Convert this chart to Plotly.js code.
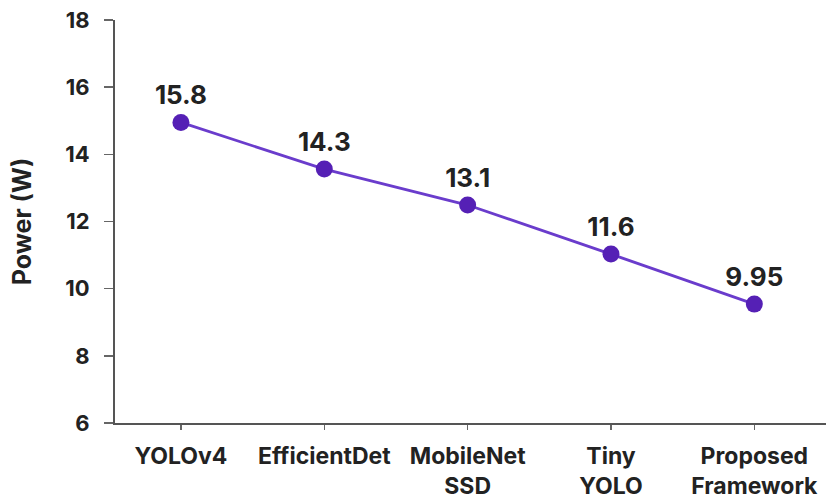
<!DOCTYPE html>
<html>
<head>
<meta charset="utf-8">
<script src="https://cdn.plot.ly/plotly-3.0.1.min.js"></script>
<style>html,body{margin:0;padding:0;background:#fff;}#chart{width:826px;height:499px;}</style>
</head>
<body>
<div id="chart"></div>
<script>
const models = ["YOLOv4", "EfficientDet", "MobileNet<br>SSD", "Tiny<br>YOLO", "Proposed<br>Framework"];
const powerPlotted = [14.95, 13.56, 12.49, 11.03, 9.54];
const powerLabels = ["15.8", "14.3", "13.1", "11.6", "9.95"];
const yTicks = [6, 8, 10, 12, 14, 16, 18];

const font = "Inter, Roboto, 'Noto Sans', sans-serif";

const trace = {
  x: models.map((_, i) => i),
  y: powerPlotted,
  text: powerLabels,
  mode: "lines+markers+text",
  textposition: "top center",
  textfont: {family: font, size: 26, color: "#222", weight: 700},
  line: {color: "#6a3ccc", width: 2.8},
  marker: {color: "#5520b5", size: 17},
  cliponaxis: false,
  hoverinfo: "none"
};

const layout = {
  width: 826, height: 499,
  margin: {l: 115, r: 0, t: 20, b: 76},
  paper_bgcolor: "#fff", plot_bgcolor: "#fff",
  showlegend: false,
  font: {family: font, color: "#222"},
  xaxis: {
    range: [-0.46, 4.5],
    tickmode: "array",
    tickvals: models.map((_, i) => i),
    ticktext: models,
    ticks: "outside", ticklen: 5, tickwidth: 1.5, tickcolor: "#666",
    ticklabelstandoff: 6,
    showline: true, linecolor: "#555", linewidth: 2,
    showgrid: false, zeroline: false,
    automargin: false,
    tickfont: {family: font, size: 23, color: "#222", weight: 700}
  },
  yaxis: {
    range: [6, 18],
    tickmode: "array",
    tickvals: yTicks,
    ticks: "outside", ticklen: 9, tickwidth: 1.5, tickcolor: "#666",
    ticklabelstandoff: 10,
    showline: true, linecolor: "#555", linewidth: 2,
    showgrid: false, zeroline: false,
    automargin: false,
    tickfont: {family: font, size: 22, color: "#222", weight: 700},
    title: {text: "Power (W)", font: {family: font, size: 25, color: "#222", weight: 700}, standoff: 26}
  }
};

Plotly.newPlot("chart", [trace], layout, {staticPlot: true, displayModeBar: false});
</script>
</body>
</html>
